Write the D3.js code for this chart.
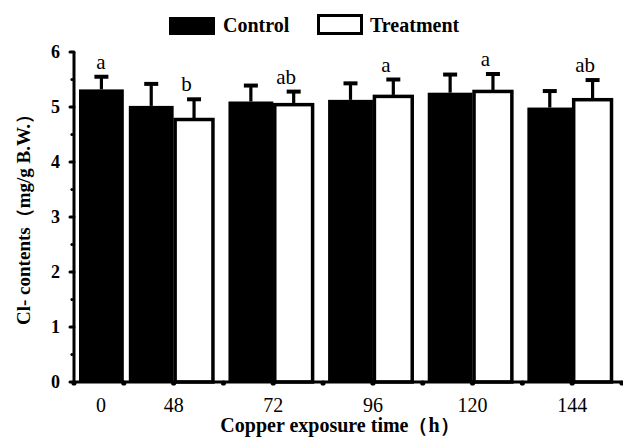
<!DOCTYPE html>
<html>
<head>
<meta charset="utf-8">
<script src="https://cdn.jsdelivr.net/npm/d3@7"></script>
<style>
  *{ margin:0; padding:0; }
  body{ background:#fff; }
  text{ font-family:"Liberation Serif","Times New Roman",serif; fill:#000; }
  .tick-lbl{ font-size:20px; }
  .y-lbl{ font-size:18px; font-weight:bold; }
  .letter{ font-size:21px; }
</style>
</head>
<body>
<div id="chart"></div>
<script>
// data
let times = ["0", "48", "72", "96", "120", "144"];
let control = [5.32, 5.02, 5.10, 5.13, 5.26, 4.99];
let controlErr = [0.23, 0.40, 0.29, 0.30, 0.33, 0.30];
let treatment = [null, 4.80, 5.07, 5.22, 5.31, 5.16];
let treatmentErr = [null, 0.34, 0.21, 0.28, 0.29, 0.33];
let letters = ["a", "b", "ab", "a", "a", "ab"];
let yTicks = [0, 1, 2, 3, 4, 5, 6];

let W = 623, H = 438;
let plotLeft = 74, plotRight = 622, plotTop = 52, plotBottom = 382;

// one slot per bar; 0 h has only a control bar
let bars = [];
let groups = [];
let slot = 0;
times.forEach(function(t, i){
  bars.push({slot: slot, type: "control", v: control[i], e: controlErr[i]});
  let lblSlot = slot + 0.5, letterSlot = slot + 0.5;
  if (treatment[i] != null){
    bars.push({slot: slot + 1, type: "treatment", v: treatment[i], e: treatmentErr[i]});
    lblSlot = slot + 1;
    letterSlot = slot + 1.42;
    slot += 2;
  } else {
    slot += 1;
  }
  let topVal = treatment[i] != null ? treatment[i] + treatmentErr[i] : control[i] + controlErr[i];
  groups.push({t: t, lbl: lblSlot, letter: letters[i], letterSlot: letterSlot, topVal: topVal});
});
let nSlots = slot;

let x = d3.scaleLinear().domain([0, nSlots]).range([plotLeft, plotRight]);
let y = d3.scaleLinear().domain([0, 6]).range([plotBottom, plotTop]);

let svg = d3.select("#chart").append("svg")
  .attr("width", W).attr("height", H);

// bars
let bw = x(1) - x(0);
bars.forEach(function(b){
  if (b.type == "control"){
    svg.append("rect")
      .attr("x", x(b.slot) + 5)
      .attr("y", y(b.v))
      .attr("width", bw - 5)
      .attr("height", y(0) - y(b.v))
      .attr("fill", "#000");
  } else {
    svg.append("rect")
      .attr("x", x(b.slot) + 1.5)
      .attr("y", y(b.v) + 1.5)
      .attr("width", bw - 12)
      .attr("height", y(0) - y(b.v) - 1.5)
      .attr("fill", "#fff")
      .attr("stroke", "#000")
      .attr("stroke-width", 3.5);
  }
});

// error bars (upper half only)
bars.forEach(function(b){
  let cx = b.type == "control" ? x(b.slot) + 2.5 + bw / 2 : x(b.slot) + 1.5 + (bw - 12) / 2;
  svg.append("line")
    .attr("x1", cx).attr("x2", cx)
    .attr("y1", y(b.v)).attr("y2", y(b.v + b.e))
    .attr("stroke", "#000").attr("stroke-width", 3.2);
  svg.append("line")
    .attr("x1", cx - 7).attr("x2", cx + 7)
    .attr("y1", y(b.v + b.e)).attr("y2", y(b.v + b.e))
    .attr("stroke", "#000").attr("stroke-width", 4);
});

// significance letters
svg.selectAll(".letter").data(groups).enter().append("text")
  .attr("class", "letter")
  .attr("text-anchor", "middle")
  .attr("x", function(d){ return d.t == "0" ? x(0.5) + 2 : x(d.letterSlot) - 8; })
  .attr("y", function(d){ return y(d.topVal) - 8; })
  .text(function(d){ return d.letter; });

// y axis
svg.append("line")
  .attr("x1", plotLeft).attr("x2", plotLeft)
  .attr("y1", y(0)).attr("y2", y(6))
  .attr("stroke", "#000").attr("stroke-width", 3);
svg.selectAll(".ytick").data(yTicks).enter().append("line")
  .attr("x1", plotLeft - 4).attr("x2", plotLeft)
  .attr("y1", function(d){ return y(d); }).attr("y2", function(d){ return y(d); })
  .attr("stroke", "#000").attr("stroke-width", 3).attr("stroke-linecap", "round");
svg.selectAll(".ymin").data(d3.range(0.5, 6, 1)).enter().append("circle")
  .attr("cx", plotLeft - 2).attr("cy", function(d){ return y(d); }).attr("r", 1.6)
  .attr("fill", "#000");
svg.selectAll(".ylbl").data(yTicks).enter().append("text")
  .attr("class", "y-lbl")
  .attr("text-anchor", "end")
  .attr("x", plotLeft - 14)
  .attr("y", function(d){ return y(d) + 6; })
  .text(function(d){ return d; });

// x axis
svg.append("line")
  .attr("x1", plotLeft).attr("x2", plotRight)
  .attr("y1", y(0)).attr("y2", y(0))
  .attr("stroke", "#000").attr("stroke-width", 3);
svg.selectAll(".xtick").data(d3.range(0, nSlots + 1)).enter().append("circle")
  .attr("cx", function(d){ return x(d); }).attr("cy", y(0) + 1).attr("r", 2.6)
  .attr("fill", "#000");
svg.selectAll(".xlbl").data(groups).enter().append("text")
  .attr("class", "tick-lbl")
  .attr("text-anchor", "middle")
  .attr("x", function(d){ return d.t == "0" ? x(d.lbl) + 2 : x(d.lbl); })
  .attr("y", 412)
  .text(function(d){ return d.t; });

// axis titles
svg.append("text")
  .attr("text-anchor", "middle")
  .attr("x", 340).attr("y", 432)
  .attr("font-size", "20px").attr("font-weight", "bold")
  .text("Copper exposure time（h）");
svg.append("text")
  .attr("text-anchor", "middle")
  .attr("transform", "translate(30,215) rotate(-90)")
  .attr("font-size", "19px").attr("font-weight", "bold")
  .text("Cl- contents（mg/g  B.W.）");

// legend
let legend = svg.append("g");
legend.append("rect").attr("x", 169).attr("y", 17).attr("width", 46).attr("height", 18).attr("fill", "#000");
legend.append("text").attr("x", 223).attr("y", 32).attr("font-size", "20px").attr("font-weight", "bold").text("Control");
legend.append("rect").attr("x", 318.5).attr("y", 15.5).attr("width", 43).attr("height", 18)
  .attr("fill", "#fff").attr("stroke", "#000").attr("stroke-width", 3);
legend.append("text").attr("x", 370).attr("y", 32).attr("font-size", "20px").attr("font-weight", "bold").text("Treatment");
</script>
</body>
</html>
